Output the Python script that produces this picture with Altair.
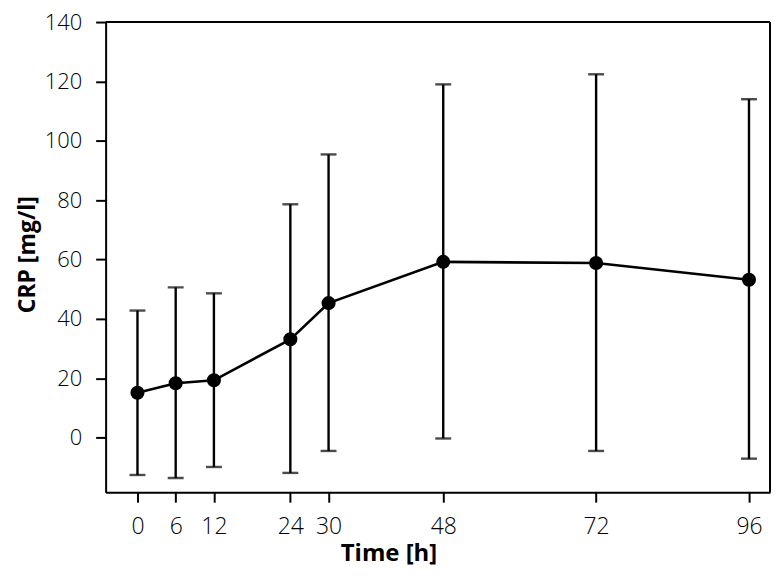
import altair as alt
import pandas as pd

time_h = [0, 6, 12, 24, 30, 48, 72, 96]
crp_mean = [15.1, 18.3, 19.3, 33.1, 45.3, 59.2, 58.8, 53.2]
crp_upper = [42.8, 50.6, 48.6, 78.6, 95.4, 119.0, 122.4, 114.0]
crp_lower = [-12.6, -13.6, -9.9, -11.9, -4.5, -0.3, -4.5, -7.1]
x_ticks = [0, 6, 12, 24, 30, 48, 72, 96]
y_ticks = [0, 20, 40, 60, 80, 100, 120, 140]

df = pd.DataFrame({"t": time_h, "m": crp_mean, "hi": crp_upper, "lo": crp_lower})

W, H = 667, 472
FONT = "Open Sans"
xs = alt.Scale(domain=[-5, 99.3], nice=False, zero=False)
ys = alt.Scale(domain=[-18.4, 140], nice=False, zero=False)

xax = alt.Axis(values=x_ticks, title="Time [h]", grid=False,
               domain=True, domainColor="black", domainWidth=2,
               tickSize=10, tickWidth=2, tickColor="black",
               labelFont=FONT, labelFontSize=23, labelFontWeight=300, labelColor="black", labelPadding=13,
               titleFont=FONT, titleFontSize=24, titleFontWeight="bold", titleColor="black",
               titleX=284, titleY=69, titleAlign="center", titleBaseline="alphabetic")
yax = alt.Axis(values=y_ticks, title="CRP [mg/l]", grid=False,
               domain=True, domainColor="black", domainWidth=2,
               tickSize=10, tickWidth=2, tickColor="black",
               labelFont=FONT, labelFontSize=22, labelFontWeight=300, labelColor="black", labelPadding=14,
               titleFont=FONT, titleFontSize=23, titleFontWeight="bold", titleColor="black",
               titleX=-71, titleY=233, titleAlign="center", titleBaseline="alphabetic", titleAngle=270)

base = alt.Chart(df)
rules = base.mark_rule(color="black", strokeWidth=2.4).encode(
    x=alt.X("t:Q", scale=xs, axis=xax), y=alt.Y("lo:Q", scale=ys, axis=yax), y2="hi:Q")
caps_hi = base.mark_tick(color="black", thickness=2.4, size=16, orient="horizontal").encode(
    x=alt.X("t:Q", scale=xs), y=alt.Y("hi:Q", scale=ys))
caps_lo = base.mark_tick(color="black", thickness=2.4, size=16, orient="horizontal").encode(
    x=alt.X("t:Q", scale=xs), y=alt.Y("lo:Q", scale=ys))
line = base.mark_line(color="black", strokeWidth=2.6).encode(
    x=alt.X("t:Q", scale=xs), y=alt.Y("m:Q", scale=ys))
pts = base.mark_point(filled=True, color="black", size=200, opacity=1).encode(
    x=alt.X("t:Q", scale=xs), y=alt.Y("m:Q", scale=ys))
frame_top = alt.Chart(pd.DataFrame({"k": [0]})).mark_rule(color="black", strokeWidth=2).encode(
    x=alt.value(0), x2=alt.value(W), y=alt.value(0))
frame_right = alt.Chart(pd.DataFrame({"k": [0]})).mark_rule(color="black", strokeWidth=2).encode(
    x=alt.value(W), y=alt.value(0), y2=alt.value(H))

chart = alt.layer(rules, caps_hi, caps_lo, line, pts, frame_top, frame_right).properties(
    width=W, height=H,
    autosize=alt.AutoSizeParams(type="none"),
    padding={"left": 98, "top": 13, "right": 2, "bottom": 76},
).configure_view(stroke=None).configure(background="white")

chart.save("out.html", embed_options={"renderer": "svg", "actions": False})
